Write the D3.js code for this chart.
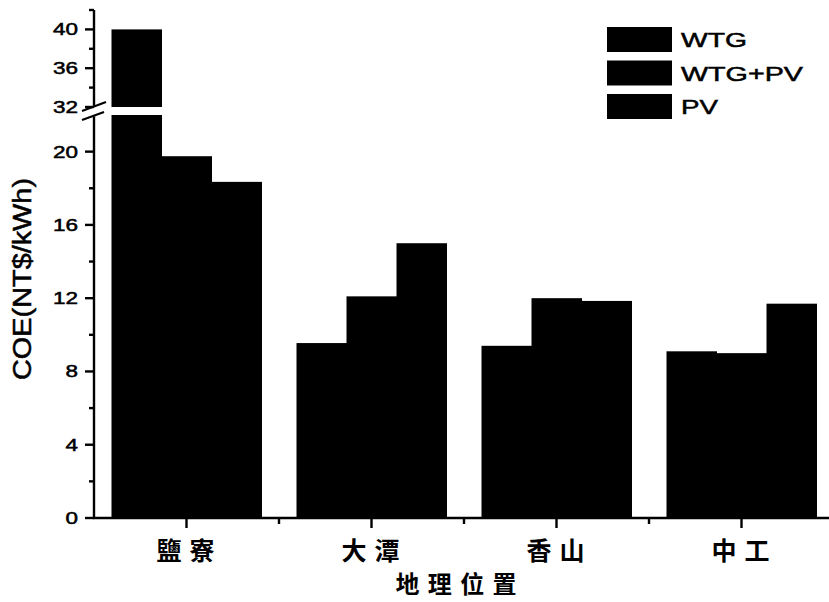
<!DOCTYPE html>
<html><head><meta charset="utf-8">
<script src="https://cdn.jsdelivr.net/npm/d3@7"></script>
<style>body{margin:0;background:#fff}svg{display:block}</style>
</head><body>
<script>
const categories = ["鹽寮","大潭","香山","中工"];
const seriesNames = ["WTG","WTG+PV","PV"];
const wtg   = [40, 9.55, 9.4, 9.1];
const wtgpv = [19.75, 12.1, 12.0, 9.0];
const pv    = [18.35, 15.0, 11.85, 11.7];
const lowerTicks = [0,4,8,12,16,20];
const lowerMinor = [2,6,10,14,18];
const upperTicks = [32,36,40];
const upperMinor = [34,38,42];

const W=829,H=602;
const svg=d3.select("body").append("svg").attr("width",W).attr("height",H);
const axisX=94, baseY=518;
const yLow=d3.scaleLinear().domain([0,22]).range([baseY,115]);
const yUp=d3.scaleLinear().domain([32,42]).range([107,10]);
const x0=d3.scaleBand().domain(categories).range([axisX,834]).paddingInner(35/185).paddingOuter(35/370);
const x1=d3.scaleBand().domain(seriesNames).range([0,x0.bandwidth()]);
const vals=[wtg,wtgpv,pv];

const data=[];
categories.forEach((c,i)=>seriesNames.forEach((s,j)=>data.push({c,s,v:vals[j][i]})));

svg.append("g").selectAll("rect").data(data).join("rect")
  .attr("x",d=>x0(d.c)+x1(d.s)).attr("width",x1.bandwidth()+0.5)
  .attr("y",d=>yLow(Math.min(d.v,22))).attr("height",d=>baseY-yLow(Math.min(d.v,22)))
  .attr("fill","#000");
svg.append("g").selectAll("rect").data(data.filter(d=>d.v>32)).join("rect")
  .attr("x",d=>x0(d.c)+x1(d.s)).attr("width",x1.bandwidth()+0.5)
  .attr("y",d=>yUp(d.v)).attr("height",d=>yUp(32)-yUp(d.v))
  .attr("fill","#000");

const sw=2.4;
const gl=svg.append("g").attr("transform",`translate(${axisX},0)`);
gl.append("line").attr("y1",baseY+1).attr("y2",yLow(22)).attr("stroke","#000").attr("stroke-width",sw);
gl.selectAll(".mj").data(lowerTicks).join("line").attr("x1",-9).attr("x2",0).attr("y1",d=>yLow(d)).attr("y2",d=>yLow(d)).attr("stroke","#000").attr("stroke-width",sw);
gl.selectAll(".mn").data(lowerMinor).join("line").attr("class","mn").attr("x1",-5).attr("x2",0).attr("y1",d=>yLow(d)).attr("y2",d=>yLow(d)).attr("stroke","#000").attr("stroke-width",sw);
const gu=svg.append("g").attr("transform",`translate(${axisX},0)`);
gu.append("line").attr("y1",yUp(32)).attr("y2",yUp(42)).attr("stroke","#000").attr("stroke-width",sw);
gu.selectAll(".mj").data(upperTicks).join("line").attr("x1",-9).attr("x2",0).attr("y1",d=>yUp(d)).attr("y2",d=>yUp(d)).attr("stroke","#000").attr("stroke-width",sw);
gu.selectAll(".mn").data(upperMinor).join("line").attr("class","mn").attr("x1",-5).attr("x2",0).attr("y1",d=>yUp(d)).attr("y2",d=>yUp(d)).attr("stroke","#000").attr("stroke-width",sw);

const tickFont="'Liberation Sans', Arial, sans-serif";
function tickLabel(g,arr,scale){
  g.selectAll(".lb").data(arr).join("text").attr("class","lb")
   .attr("x",-16).attr("y",d=>scale(d)+6).attr("text-anchor","end")
   .attr("font-family",tickFont).attr("font-size",16.5)
   .attr("stroke","#000").attr("stroke-width",0.5)
   .attr("textLength",d=>String(d).length*12.5).attr("lengthAdjust","spacingAndGlyphs")
   .text(d=>d);
}
tickLabel(gl,lowerTicks,yLow);
tickLabel(gu,upperTicks,yUp);

svg.append("polygon").attr("points","82,113 106,104 106,112 82,121").attr("fill","#fff");
svg.append("line").attr("x1",82).attr("y1",111).attr("x2",106).attr("y2",102).attr("stroke","#000").attr("stroke-width",2.2);
svg.append("line").attr("x1",82).attr("y1",120).attr("x2",104).attr("y2",112).attr("stroke","#000").attr("stroke-width",2.2);

const gx=svg.append("g");
gx.append("line").attr("x1",axisX-1).attr("x2",W).attr("y1",baseY).attr("y2",baseY).attr("stroke","#000").attr("stroke-width",sw);
gx.selectAll(".mj").data(categories).join("line").attr("x1",d=>x0(d)+x0.bandwidth()/2).attr("x2",d=>x0(d)+x0.bandwidth()/2).attr("y1",baseY).attr("y2",baseY+10).attr("stroke","#000").attr("stroke-width",sw);
gx.selectAll(".mn").data(categories.slice(1)).join("line").attr("class","mn").attr("x1",d=>x0(d)-x0.step()*x0.paddingInner()/2).attr("x2",d=>x0(d)-x0.step()*x0.paddingInner()/2).attr("y1",baseY).attr("y2",baseY+6).attr("stroke","#000").attr("stroke-width",sw);
const cjk="'Noto Sans CJK TC','Noto Sans CJK SC',sans-serif";
gx.selectAll(".lb").data(categories).join("text").attr("class","lb")
  .attr("x",d=>x0(d)+x0.bandwidth()/2-1).attr("y",560).attr("text-anchor","middle")
  .attr("font-family",cjk).attr("font-size",25).attr("font-weight",700)
  .attr("textLength",58).attr("lengthAdjust","spacing").text(d=>d);

svg.append("text").attr("x",456).attr("y",593).attr("text-anchor","middle")
  .attr("font-family",cjk).attr("font-size",24).attr("font-weight",700)
  .attr("textLength",121).attr("lengthAdjust","spacing").text("地理位置");

svg.append("text").attr("transform","translate(31,279) rotate(-90)").attr("text-anchor","middle")
  .attr("font-family",tickFont).attr("font-size",25)
  .attr("stroke","#000").attr("stroke-width",0.5)
  .attr("textLength",202).attr("lengthAdjust","spacingAndGlyphs").text("COE(NT$/kWh)");

const legLen={"WTG":66,"WTG+PV":122,"PV":37};
const lg=svg.append("g");
const ly=d3.scalePoint().domain(seriesNames).range([27,94]);
lg.selectAll("rect").data(seriesNames).join("rect").attr("x",607).attr("y",d=>ly(d)).attr("width",65).attr("height",25).attr("fill","#000");
lg.selectAll("text").data(seriesNames).join("text").attr("x",681).attr("y",d=>ly(d)+20)
  .attr("font-family",tickFont).attr("font-size",20.5)
  .attr("stroke","#000").attr("stroke-width",0.5)
  .attr("textLength",d=>legLen[d]).attr("lengthAdjust","spacingAndGlyphs").text(d=>d);
</script>
</body></html>
